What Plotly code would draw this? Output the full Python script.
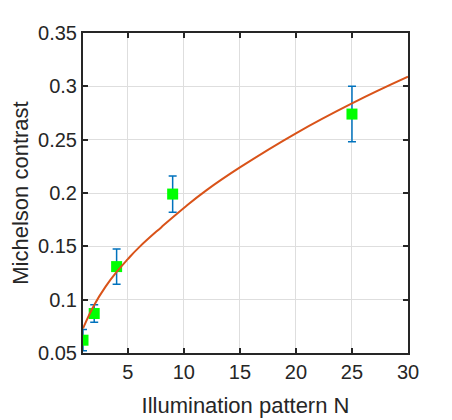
import plotly.graph_objects as go

# Messpunkte
pattern_n = [1, 2, 4, 9, 25]
contrast = [0.062, 0.087, 0.131, 0.199, 0.274]
contrast_err = [0.010, 0.0082, 0.0165, 0.017, 0.026]

# Fit-Kurve
fit_n = [1, 2, 3, 4, 5, 6, 8, 10, 12, 15, 20, 25, 30]
fit_contrast = [0.073, 0.095, 0.112, 0.126, 0.138, 0.149, 0.168, 0.186,
                0.2025, 0.224, 0.256, 0.284, 0.309]

x_ticks = [5, 10, 15, 20, 25, 30]
y_ticks = [0.05, 0.1, 0.15, 0.2, 0.25, 0.3, 0.35]
y_tick_labels = ['0.05', '0.1', '0.15', '0.2', '0.25', '0.3', '0.35']

font_family = 'Arial, Liberation Sans, Helvetica, sans-serif'
axis_color = '#262626'

fig = go.Figure()

fig.add_trace(go.Scatter(
    x=pattern_n,
    y=contrast,
    mode='markers',
    marker=dict(symbol='square', size=11, color='#00FF00', line=dict(width=0)),
    error_y=dict(type='data', array=contrast_err, visible=True,
                 color='#0072BD', thickness=1.5, width=4),
    showlegend=False,
))

fig.add_trace(go.Scatter(
    x=fit_n,
    y=fit_contrast,
    mode='lines',
    line=dict(color='#D95319', width=2, shape='spline', smoothing=1.3),
    showlegend=False,
))

axis_style = dict(
    showline=True, linecolor=axis_color, linewidth=2, mirror='ticks',
    ticks='inside', ticklen=5, tickcolor=axis_color, tickwidth=1.5,
    showgrid=True, gridcolor='#DEDEDE', gridwidth=1,
    zeroline=False, automargin=False,
    tickfont=dict(family=font_family, size=20, color=axis_color),
)

fig.update_xaxes(
    range=[1, 30], tickvals=x_ticks,
    title=dict(text='Illumination pattern N', standoff=16,
               font=dict(family=font_family, size=22, color=axis_color)),
    **axis_style,
)
fig.update_yaxes(
    range=[0.05, 0.35], tickvals=y_ticks, ticktext=y_tick_labels,
    title=dict(text='Michelson contrast', standoff=8,
               font=dict(family=font_family, size=22, color=axis_color)),
    **axis_style,
)

# Seite hat 8px Body-Rand, daher Ränder entsprechend verschoben
fig.update_layout(
    width=452, height=420,
    margin=dict(l=75, r=52, t=25, b=75),
    paper_bgcolor='white',
    plot_bgcolor='white',
)

fig.write_html("out.html")
